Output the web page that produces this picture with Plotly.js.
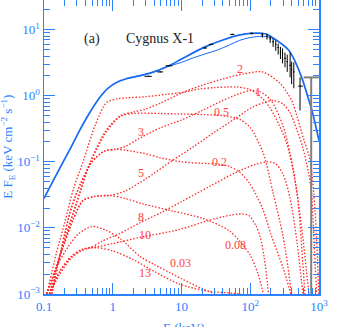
<!DOCTYPE html>
<html>
<head>
<meta charset="utf-8">
<script src="https://cdn.plot.ly/plotly-3.0.1.min.js"></script>
<style>html,body{margin:0;padding:0;background:#fff;}#plot{width:343px;height:327px;}</style>
</head>
<body>
<div id="plot"></div>
<script>
// ---- total model (thick blue) ----
const modelE = [0.1, 0.14, 0.19, 0.25, 0.33, 0.45, 0.65, 0.85, 1.15, 1.5, 2, 3.5, 6.8, 10, 22, 40, 68.6, 100, 134, 170, 207, 280, 363, 450, 560, 680, 790, 1000];
const modelF = [0.028, 0.055, 0.1, 0.17, 0.3, 0.53, 0.95, 1.3, 1.6, 1.78, 1.92, 2.2, 2.9, 3.6, 5.5, 7.0, 8.3, 8.8, 8.9, 8.6, 7.7, 6.2, 4.9, 3.3, 1.9, 1.0, 0.6, 0.21];
// ---- thin blue model ----
const thinE = [2, 3.5, 6.8, 10, 13.3, 22, 32.8, 50, 70, 100, 150, 200, 250];
const thinF = [1.92, 2.2, 2.85, 3.2, 3.6, 4.3, 4.9, 5.9, 6.9, 7.6, 7.95, 7.6, 6.8];
// ---- data ----
const dataE = [3.3, 4.9, 6.6, 22, 27, 55, 105, 150, 175, 195, 215, 235, 255, 275, 295, 320, 345, 380, 400, 430, 530];
const dataF = [1.97, 2.3, 2.85, 5.3, 6.0, 8.5, 8.8, 8.4, 8.0, 7.3, 6.6, 6.0, 5.4, 4.6, 4.3, 3.7, 3.3, 2.9, 2.5, 2.3, 1.4];
const dataEerrLo = [0.4, 0.5, 0.7, 1.5, 2, 4, 6, 5, 5, 5, 5, 5, 6, 6, 6, 7, 7, 8, 8, 9, 30];
const dataEerrHi = [0.4, 0.5, 0.8, 1.5, 2, 4, 6, 5, 5, 5, 5, 5, 6, 6, 6, 7, 7, 8, 8, 9, 50];
const dataFerrLo = [0.04, 0.04, 0.05, 0.1, 0.1, 0.2, 0.3, 0.8, 0.9, 1.0, 1.1, 1.2, 1.2, 1.0, 1.2, 1.0, 1.0, 1.0, 1.0, 1.0, 0.8];
const dataFerrHi = [0.04, 0.04, 0.05, 0.1, 0.1, 0.2, 0.3, 0.6, 0.7, 0.8, 0.8, 0.9, 0.8, 0.9, 0.9, 0.8, 0.9, 1.6, 0.8, 0.9, 0.5];
// upper-limit point (grey)
const limE = [770];
const limF = [1.9];
const limEerrLo = [170];
const limEerrHi = [230];
const limFerrLo = [1.89999];

// ---- component curves (red dotted) ----
const c2E = [0.12, 0.16, 0.22, 0.3, 0.47, 0.8, 1.3, 2, 3, 5, 10, 20, 40, 80, 150, 270, 400, 480, 600, 740, 875, 1000];
const c2F = [0.001, 0.003, 0.009, 0.025, 0.1, 0.3, 0.5, 0.57, 0.63, 0.78, 1.1, 1.45, 1.8, 2.15, 2.3, 1.55, 0.85, 0.48, 0.22, 0.107, 0.0186, 0.0008];
const c1E = [0.11, 0.15, 0.2, 0.27, 0.37, 0.55, 0.82, 1.2, 1.6, 3, 6, 10, 18.5, 30, 46, 65, 98, 140, 195, 260, 340, 480, 580, 640];
const c1F = [0.001, 0.004, 0.012, 0.04, 0.1, 0.35, 0.8, 0.9, 0.93, 0.97, 1.05, 1.12, 1.27, 1.33, 1.36, 1.36, 1.25, 0.98, 0.65, 0.37, 0.19, 0.033, 0.003, 0.0007];
const c05E = [0.12, 0.16, 0.22, 0.3, 0.47, 0.8, 1.3, 2, 5, 10, 20, 40, 70, 100, 155, 216, 300, 400, 450];
const c05F = [0.001, 0.003, 0.009, 0.024, 0.095, 0.28, 0.49, 0.54, 0.54, 0.53, 0.52, 0.5, 0.44, 0.33, 0.134, 0.033, 0.0075, 0.001, 0.0004];
const c3E = [0.13, 0.18, 0.25, 0.35, 0.5, 0.75, 1.1, 1.5, 2.6, 5, 10, 20, 40, 70, 100, 140, 200, 300, 420, 560, 700, 800];
const c3F = [0.001, 0.005, 0.02, 0.05, 0.1, 0.145, 0.155, 0.17, 0.235, 0.33, 0.43, 0.6, 0.85, 1.08, 1.2, 1.15, 0.85, 0.35, 0.08, 0.01, 0.0012, 0.0003];
const c02E = [0.13, 0.18, 0.25, 0.35, 0.5, 0.75, 1.1, 1.5, 2.8, 5, 10, 20, 36, 50, 70, 98, 150, 200, 300, 390];
const c02F = [0.001, 0.005, 0.02, 0.05, 0.1, 0.145, 0.155, 0.15, 0.135, 0.115, 0.1, 0.095, 0.092, 0.085, 0.07, 0.047, 0.02, 0.008, 0.0025, 0.001];
const c5E = [0.11, 0.15, 0.2, 0.27, 0.37, 0.55, 0.9, 1.5, 3, 7.5, 15, 30, 60, 110, 214, 300, 380, 480, 580, 700, 780, 875, 950];
const c5F = [0.001, 0.0025, 0.006, 0.014, 0.026, 0.03, 0.031, 0.036, 0.055, 0.106, 0.17, 0.28, 0.45, 0.68, 0.85, 0.75, 0.55, 0.3, 0.166, 0.07, 0.033, 0.003, 0.0006];
const c008E = [0.11, 0.15, 0.2, 0.27, 0.37, 0.55, 0.9, 1.5, 2.8, 7.5, 20, 50, 98, 130, 155];
const c008F = [0.001, 0.0025, 0.006, 0.014, 0.026, 0.03, 0.031, 0.028, 0.023, 0.018, 0.014, 0.009, 0.004, 0.002, 0.001];
const c8E = [0.12, 0.17, 0.25, 0.35, 0.47, 0.7, 1.2, 2.5, 5, 10, 25, 60, 120, 175, 230, 300, 380, 480, 560, 620];
const c8F = [0.001, 0.002, 0.0035, 0.0045, 0.005, 0.0063, 0.008, 0.012, 0.017, 0.025, 0.042, 0.068, 0.092, 0.1, 0.095, 0.065, 0.028, 0.006, 0.0015, 0.0006];
const c10E = [0.12, 0.17, 0.25, 0.37, 0.6, 1, 2.5, 9.5, 25, 50, 75, 95, 120, 140, 160, 185];
const c10F = [0.001, 0.0022, 0.0037, 0.0048, 0.0052, 0.0058, 0.0072, 0.0095, 0.013, 0.0155, 0.0163, 0.0155, 0.011, 0.0072, 0.0035, 0.001];
const c13E = [0.11, 0.15, 0.22, 0.32, 0.5, 0.8, 1.3, 2.5, 4, 6.8, 10, 20, 30, 40];
const c13F = [0.001, 0.0025, 0.005, 0.0082, 0.0105, 0.0092, 0.0068, 0.0037, 0.0028, 0.0021, 0.0017, 0.0012, 0.001, 0.0008];
const c003E = [0.12, 0.17, 0.25, 0.37, 0.6, 1, 2, 4, 9.5, 25, 71, 100];
const c003F = [0.001, 0.0022, 0.0037, 0.0048, 0.005, 0.0045, 0.0033, 0.0022, 0.0014, 0.0011, 0.001, 0.0009];

// curve labels and where they sit (E keV, F)
const labelText = ["2", "1", "0.5", "3", "0.2", "5", "8", "10", "0.08", "0.03", "13"];
const labelE = [71, 130, 38.8, 2.58, 36.3, 2.58, 2.58, 2.94, 60, 9.8, 2.94];
const labelF = [2.54, 1.14, 0.57, 0.283, 0.1, 0.068, 0.0146, 0.0078, 0.0055, 0.00294, 0.00208];

// tick labels
const xTickVals = [0.1, 1, 10, 100, 1000];
const xTickText = ["0.1", "1", "10", "10<sup>2</sup>", "10<sup>3</sup>"];
const yTickVals = [0.001, 0.01, 0.1, 1, 10];
const yTickText = ["10<sup>\u22123</sup>", "10<sup>\u22122</sup>", "10<sup>\u22121</sup>", "10<sup>0</sup>", "10<sup>1</sup>"];

const BLUE = "#2a82ff";
const LINEBLUE = "#1769f2";
const RED = "rgb(255,40,40)";
const SERIF = "Liberation Serif, Times New Roman, serif";

const red = (E, F) => ({x: E, y: F, mode: "lines", line: {color: RED, width: 1.3, dash: "1.5px,1.8px", shape: "spline", smoothing: 0.8}, hoverinfo: "skip"});

const traces = [
  red(c2E, c2F), red(c1E, c1F), red(c05E, c05F), red(c3E, c3F), red(c02E, c02F),
  red(c5E, c5F), red(c008E, c008F), red(c8E, c8F), red(c10E, c10F), red(c13E, c13F), red(c003E, c003F),
  {x: thinE, y: thinF, mode: "lines", line: {color: LINEBLUE, width: 1, shape: "spline"}},
  {x: modelE, y: modelF, mode: "lines", line: {color: LINEBLUE, width: 1.7, shape: "spline"}},
  {x: dataE, y: dataF, mode: "markers", marker: {size: 1, color: "black"},
   error_x: {type: "data", symmetric: false, array: dataEerrHi, arrayminus: dataEerrLo, color: "black", thickness: 1, width: 0},
   error_y: {type: "data", symmetric: false, array: dataFerrHi, arrayminus: dataFerrLo, color: "black", thickness: 1, width: 0}},
  {x: limE, y: limF, mode: "markers", marker: {size: 1, color: "#808080"},
   error_x: {type: "data", symmetric: false, array: limEerrHi, arrayminus: limEerrLo, color: "#808080", thickness: 2, width: 0},
   error_y: {type: "data", symmetric: false, array: [0], arrayminus: limFerrLo, color: "#808080", thickness: 2, width: 0}}
];

const anns = labelText.map((t, i) => ({
  x: Math.log10(labelE[i]), y: Math.log10(labelF[i]), xref: "x", yref: "y",
  text: t, showarrow: false, font: {family: SERIF, size: 12, color: "rgb(255,60,60)"}
}));
anns.push({x: 0.138, y: 0.9, xref: "paper", yref: "paper", text: "(a)", showarrow: false, font: {family: SERIF, size: 14, color: "#222"}});
anns.push({x: 0.42, y: 0.9, xref: "paper", yref: "paper", text: "Cygnus X-1", showarrow: false, font: {family: SERIF, size: 14, color: "#222"}});
anns.push({x: -0.132, y: 0.5, xref: "paper", yref: "paper", xanchor: "center", yanchor: "middle", text: "E F<sub>E</sub> (keV cm<sup>\u22122</sup> s<sup>\u22121</sup>)", textangle: -90, showarrow: false, font: {family: SERIF, size: 13, color: BLUE}});
anns.push({x: 0.51, y: -0.083, xref: "paper", yref: "paper", yanchor: "top", text: "E (keV)", showarrow: false, font: {family: SERIF, size: 13, color: BLUE}});

const axCommon = {
  type: "log", showgrid: false, zeroline: false, showline: true, linecolor: BLUE, linewidth: 1.5,
  ticks: "inside", ticklen: 11, tickwidth: 1, tickcolor: BLUE, mirror: "allticks",
  tickmode: "array", tickfont: {family: SERIF, size: 13, color: BLUE},
  minor: {ticks: "inside", ticklen: 6, tickwidth: 1, tickcolor: BLUE, dtick: "D1", showgrid: false}
};

const layout = {
  width: 343, height: 327,
  margin: {l: 44, r: 24, t: 0, b: 33},
  paper_bgcolor: "white", plot_bgcolor: "white",
  showlegend: false,
  xaxis: Object.assign({}, axCommon, {range: [-1, 3], tickvals: xTickVals, ticktext: xTickText}),
  yaxis: Object.assign({}, axCommon, {range: [-3, 1.45], tickvals: yTickVals, ticktext: yTickText}),
  annotations: anns
};

Plotly.newPlot("plot", traces, layout, {staticPlot: true, displayModeBar: false});
</script>
</body>
</html>
